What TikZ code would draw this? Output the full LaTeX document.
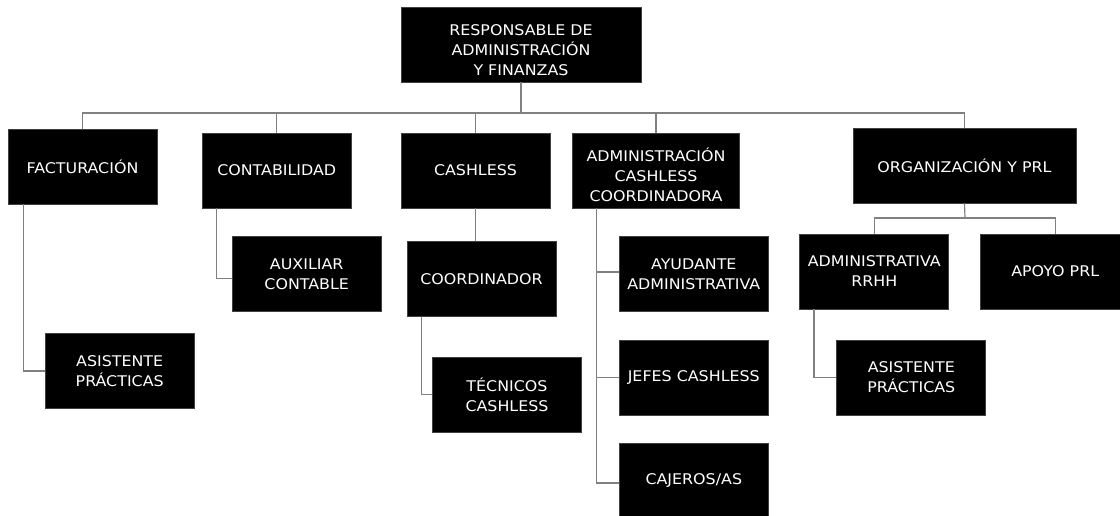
\documentclass[tikz,border=0pt]{standalone}
\usepackage{fontspec}
\setmainfont{DejaVu Sans}[FakeStretch=1.08]
\begin{document}
\begin{tikzpicture}[x=1pt,y=-1pt,
  box/.style={fill=black,draw=black!75,line width=0.8pt,minimum width=149pt,minimum height=75pt,inner sep=0pt,
    text=white,align=center,font=\fontsize{14.7pt}{20pt}\selectfont},
  txt/.style={text=white,align=center,inner sep=0pt,font=\fontsize{14.7pt}{20pt}\selectfont},
  conn/.style={draw=black!50,line width=1.2pt}]
\useasboundingbox (0,0) rectangle (1120,516);
% boxes
\node[box,minimum width=240pt] (top) at (521,44.5) {};
\node[txt] (toptext) at (521,50) {RESPONSABLE DE\\ADMINISTRACIÓN\\Y FINANZAS};
\node[box] (fact) at (82.5,166.5) {FACTURACIÓN};
\node[box] (cont) at (276.75,170.5) {CONTABILIDAD};
\node[box] (cash) at (475.5,170.5) {CASHLESS};
\node[box,minimum width=167pt] (adm) at (656,170.5) {};
\node[txt] (admtext) at (656,174.5) {ADMINISTRACIÓN\\CASHLESS\\COORDINADORA};
\node[box,minimum width=223pt] (org) at (964.5,165.5) {ORGANIZACIÓN Y PRL};
\node[box] (asis1) at (119.7,371) {ASISTENTE\\PRÁCTICAS};
\node[box] (aux) at (306.7,274) {AUXILIAR\\CONTABLE};
\node[box] (coord) at (481.5,279) {COORDINADOR};
\node[box] (tec) at (507,394.5) {TÉCNICOS\\CASHLESS};
\node[box] (ayu) at (693.8,274) {AYUDANTE\\ADMINISTRATIVA};
\node[box] (jef) at (693.8,377.5) {JEFES CASHLESS};
\node[box] (caj) at (693.8,480.5) {CAJEROS/AS};
\node[box] (rrhh) at (874.3,271.5) {ADMINISTRATIVA\\RRHH};
\node[box] (apoyo) at (1055.2,271.5) {APOYO PRL};
\node[box] (asis2) at (911.3,377.5) {ASISTENTE\\PRÁCTICAS};
% connectors
\coordinate (bus) at (521,113);
\coordinate (obus) at (965,218);
\draw[conn] (top.south) -- (bus);
\draw[conn] (bus) -| (fact.north);
\draw[conn] (bus) -| (cont.north);
\draw[conn] (bus) -| (cash.north);
\draw[conn] (bus) -| (adm.north);
\draw[conn] (bus) -| (org.north);
\draw[conn] ([xshift=16pt]fact.south west) |- (asis1.west);
\draw[conn] ([xshift=14.5pt]cont.south west) |- ([yshift=-4.7pt]aux.west);
\draw[conn] (cash.south) -- (cash.south |- coord.north);
\draw[conn] ([xshift=15pt]coord.south west) |- (tec.west);
\draw[conn] ([xshift=24.5pt]adm.south west) |- ([yshift=2pt]ayu.west);
\draw[conn] ([xshift=24.5pt]adm.south west) |- (jef.west);
\draw[conn] ([xshift=24.5pt]adm.south west) |- ([yshift=-2.5pt]caj.west);
\draw[conn] (org.south) -- (obus);
\draw[conn] (obus) -| (rrhh.north);
\draw[conn] (obus) -| (apoyo.north);
\draw[conn] ([xshift=14.6pt]rrhh.south west) |- (asis2.west);
\end{tikzpicture}
\end{document}
